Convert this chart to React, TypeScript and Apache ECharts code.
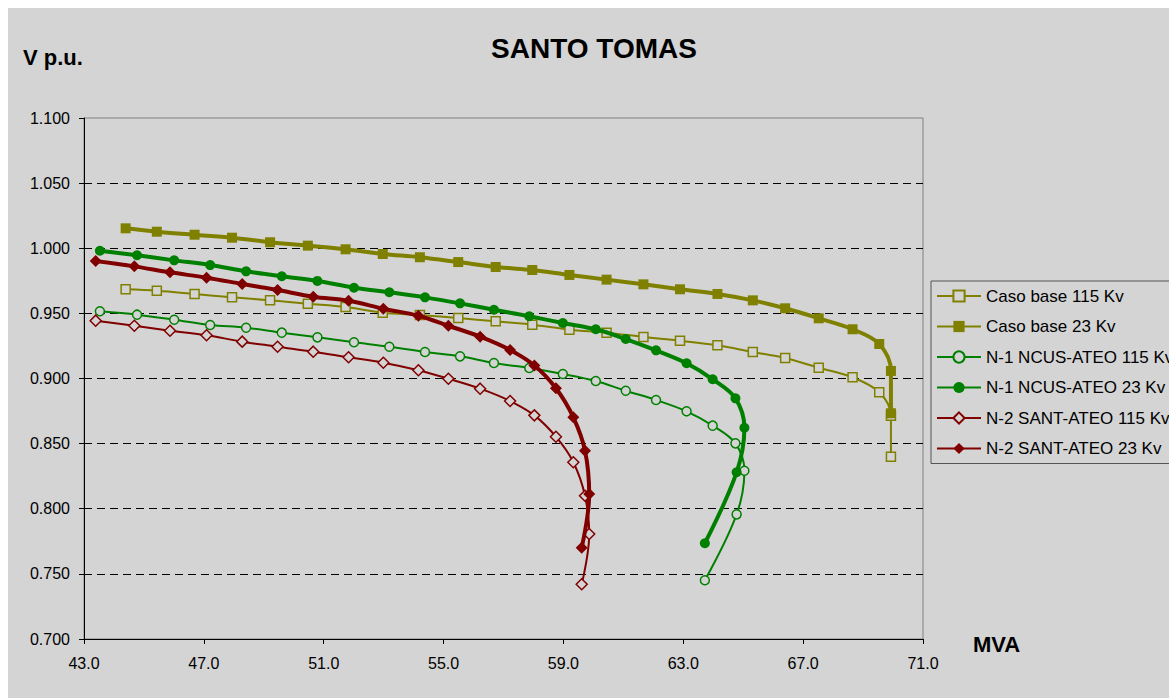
import React, { useEffect, useRef } from 'react';
import * as echarts from 'echarts';

const titleText = 'SANTO TOMAS';
const yTitle = 'V p.u.';
const xTitle = 'MVA';

const seriesNames = [
  'Caso base 115 Kv',
  'Caso base 23 Kv',
  'N-1 NCUS-ATEO 115 Kv',
  'N-1 NCUS-ATEO 23 Kv',
  'N-2 SANT-ATEO 115 Kv',
  'N-2 SANT-ATEO 23 Kv',
];

const baseMva = [44.39, 45.43, 46.69, 47.94, 49.21, 50.47, 51.73, 52.97, 54.21, 55.49, 56.74, 57.96, 59.2, 60.44, 61.67, 62.89, 64.14, 65.32, 66.4, 67.52, 68.65, 69.54, 69.93, 69.93];
const base23 = [1.0153, 1.0127, 1.0104, 1.0081, 1.0046, 1.002, 0.9992, 0.9956, 0.9931, 0.9894, 0.9856, 0.9833, 0.9795, 0.9759, 0.9723, 0.9685, 0.9649, 0.96, 0.9539, 0.9462, 0.9378, 0.9265, 0.9058, 0.8733];
const base115 = [0.9685, 0.9674, 0.9649, 0.9623, 0.96, 0.9574, 0.9549, 0.9505, 0.9488, 0.9464, 0.9439, 0.9413, 0.9375, 0.9352, 0.9319, 0.929, 0.9255, 0.9203, 0.9157, 0.9083, 0.9009, 0.8894, 0.8714, 0.84];

const n1Mva = [43.53, 44.77, 46.01, 47.21, 48.41, 49.6, 50.79, 52.01, 53.19, 54.38, 55.55, 56.68, 57.86, 58.98, 60.08, 61.08, 62.09, 63.11, 63.98, 64.74, 65.04, 64.78, 63.72];
const n1_23 = [0.9981, 0.9946, 0.9907, 0.9871, 0.9823, 0.9785, 0.9749, 0.9697, 0.9662, 0.9623, 0.9577, 0.9528, 0.9478, 0.9426, 0.9378, 0.9303, 0.9216, 0.9117, 0.8994, 0.8848, 0.8622, 0.828, 0.7735];
const n1_115 = [0.9516, 0.949, 0.9451, 0.9411, 0.939, 0.9352, 0.9316, 0.9278, 0.9244, 0.9203, 0.917, 0.9119, 0.9081, 0.9035, 0.8981, 0.8906, 0.8835, 0.8748, 0.8638, 0.8502, 0.8292, 0.7957, 0.7451];

const n2Mva = [43.39, 44.68, 45.87, 47.09, 48.28, 49.46, 50.65, 51.83, 52.99, 54.16, 55.16, 56.22, 57.22, 58.03, 58.75, 59.33, 59.72, 59.86, 59.61];
const n2_23 = [0.9902, 0.9861, 0.9815, 0.9774, 0.9726, 0.9679, 0.9628, 0.9597, 0.9536, 0.9482, 0.9405, 0.9321, 0.9219, 0.91, 0.8925, 0.8702, 0.8446, 0.8113, 0.7701];
const n2_115 = [0.9444, 0.9405, 0.9367, 0.9332, 0.9283, 0.9244, 0.9206, 0.9163, 0.9121, 0.9063, 0.8998, 0.8922, 0.8827, 0.8717, 0.8553, 0.8357, 0.81, 0.7806, 0.742];

const BG = '#d4d4d4';
const FONT = '"Liberation Sans", Arial, sans-serif';
const OLIVE = '#808000';
const GREEN = '#008000';
const RED = '#800000';

function pairs(xs: number[], ys: number[]) {
  return xs.map((x, i) => [x, ys[i]]);
}

function mk(name: string, xs: number[], ys: number[], color: string, thick: boolean, symbol: string, size: number) {
  return {
    name,
    type: 'line',
    data: pairs(xs, ys),
    smooth: 0.35,
    symbol,
    symbolSize: size,
    showAllSymbol: true,
    lineStyle: { color, width: thick ? 4 : 2 },
    itemStyle: thick
      ? { color, borderColor: color, borderWidth: 0 }
      : { color: BG, borderColor: color, borderWidth: 1.5 },
    emphasis: { disabled: true },
    z: thick ? 3 : 2,
  };
}

export default function App() {
  const ref = useRef<HTMLDivElement>(null);
  useEffect(() => {
    const chart = echarts.init(ref.current!, null, { renderer: 'svg' });
    const option: any = {
      animation: false,
      backgroundColor: BG,
      textStyle: { fontFamily: FONT },
      grid: {
        left: 76,
        top: 110,
        width: 839,
        height: 521,
        show: true,
        backgroundColor: BG,
        borderColor: '#808080',
        borderWidth: 1,
        containLabel: false,
      },
      xAxis: {
        type: 'value',
        min: 43,
        max: 71,
        interval: 4,
        axisLine: { show: true, onZero: false, lineStyle: { color: '#000', width: 1 } },
        axisTick: { show: true, length: 5, lineStyle: { color: '#000' } },
        axisLabel: {
          margin: 16,
          fontSize: 16,
          color: '#000',
          fontFamily: FONT,
          formatter: (v: number) => v.toFixed(1),
        },
        splitLine: { show: false },
      },
      yAxis: {
        type: 'value',
        min: 0.7,
        max: 1.1,
        interval: 0.05,
        axisLine: { show: true, onZero: false, lineStyle: { color: '#000', width: 1 } },
        axisTick: { show: true, length: 5, lineStyle: { color: '#000' } },
        axisLabel: {
          margin: 14,
          fontSize: 16,
          color: '#000',
          fontFamily: FONT,
          formatter: (v: number) => v.toFixed(3),
        },
        splitLine: {
          show: true,
          showMinLine: false,
          showMaxLine: false,
          lineStyle: { color: '#000', width: 1, type: [8, 5] },
        },
      },
      legend: {
        orient: 'vertical',
        left: 923,
        top: 273,
        padding: [6, 5, 6, 5],
        itemGap: 12.5,
        itemWidth: 44,
        itemHeight: 14,
        borderColor: '#555',
        borderWidth: 1,
        backgroundColor: BG,
        textStyle: { fontSize: 17, lineHeight: 18, color: '#000', fontFamily: FONT },
        data: seriesNames,
      },
      graphic: [
        {
          type: 'text',
          x: 586,
          y: 40,
          style: {
            text: titleText,
            font: 'bold 28px ' + FONT,
            fill: '#000',
            align: 'center',
            verticalAlign: 'middle',
            textAlign: 'center',
            textVerticalAlign: 'middle',
          },
        },
        {
          type: 'text',
          x: 15,
          y: 49,
          style: {
            text: yTitle,
            font: 'bold 22px ' + FONT,
            fill: '#000',
            align: 'left',
            verticalAlign: 'middle',
            textAlign: 'left',
            textVerticalAlign: 'middle',
          },
        },
        {
          type: 'text',
          x: 965,
          y: 636,
          style: {
            text: xTitle,
            font: 'bold 22px ' + FONT,
            fill: '#000',
            align: 'left',
            verticalAlign: 'middle',
            textAlign: 'left',
            textVerticalAlign: 'middle',
          },
        },
      ],
      series: [
        mk(seriesNames[0], baseMva, base115, OLIVE, false, 'rect', 9),
        mk(seriesNames[1], baseMva, base23, OLIVE, true, 'rect', 10),
        mk(seriesNames[2], n1Mva, n1_115, GREEN, false, 'circle', 9),
        mk(seriesNames[3], n1Mva, n1_23, GREEN, true, 'circle', 10),
        mk(seriesNames[4], n2Mva, n2_115, RED, false, 'diamond', 11),
        mk(seriesNames[5], n2Mva, n2_23, RED, true, 'diamond', 12),
      ],
    };
    chart.setOption(option);
    return () => chart.dispose();
  }, []);
  return (
    <div
      ref={ref}
      style={{ position: 'fixed', left: 8, top: 8, width: 1161, height: 690, background: BG }}
    />
  );
}
